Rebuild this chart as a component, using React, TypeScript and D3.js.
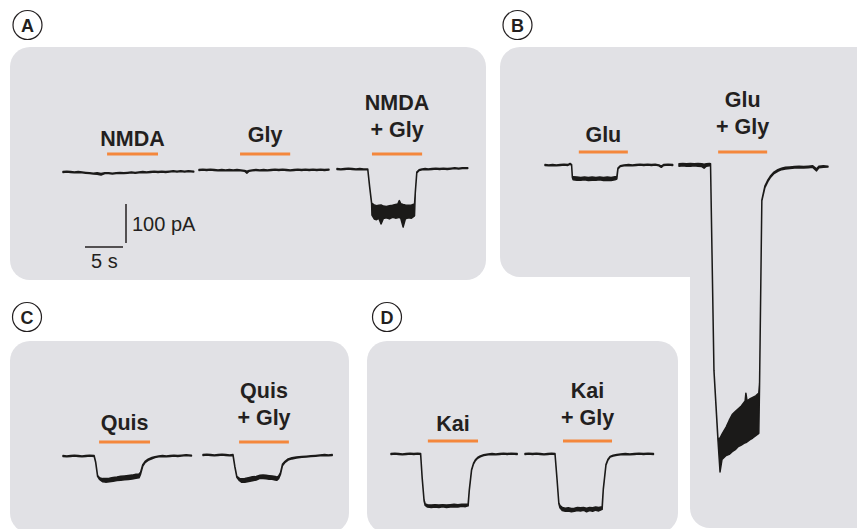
import React from 'react';
import * as d3 from 'd3';

/* ─── Recording scale ─── */
const PX_PER_S = 7.6;   // 5 s  = 38 px
const PX_PER_PA = 0.39; // 100 pA = 39 px

type Pt = [number, number, number]; // [time s, upper edge pA, lower edge pA]

/* ─── Current traces (pA vs s) ─── */
const nmdaTrace: Pt[] = [
  [0, 1, -1], [0.5, 2, 0], [1, 1, -1], [1.5, 0, -2], [2, 1, -1], [2.5, 0, -2], [3, -1, -3], [3.5, -2, -4],
  [4, -3, -5], [4.5, -2, -6], [5, -4, -8], [5.5, -2, -4], [6, -2, -4], [6.5, -3, -5], [7, -2, -4], [7.5, -1, -3],
  [8, -2, -4], [8.5, -1, -3], [9, 0, -2], [9.5, -1, -3], [10, 0, -2], [10.5, 1, -1], [11, 0, -2], [11.5, 1, -1],
  [12, 2, 0], [12.5, 1, -1], [13, 2, 0], [13.5, 1, -1], [14, 2, 0], [14.5, 3, 1], [15, 2, 0], [15.5, 3, 1],
  [16, 2, 0], [16.5, 3, 1], [17.2, 2, 0],
];
const glyTrace: Pt[] = [
  [0, 1, -1], [0.5, 2, 0], [1, 1, -1], [1.5, 2, 0], [2, 1, -1], [2.5, 0, -2], [3, 1, -1], [3.5, 0, -2],
  [4, 1, -1], [4.5, 0, -2], [5, 1, -1], [5.5, 0, -2], [6, -1, -3], [6.3, -3, -8], [6.6, -1, -3], [7, 0, -2],
  [7.5, 1, -1], [8, 0, -2], [8.5, 1, -1], [9, 0, -2], [9.5, 1, -1], [10, 2, 0], [10.5, 1, -1], [11, 2, 0],
  [11.5, 1, -1], [12, 0, -2], [12.5, 1, -1], [13, 2, 0], [13.5, 1, -1], [14, 2, 0], [14.5, 1, -1], [15, 2, 0],
  [15.5, 1, -1], [16, 2, 0], [16.5, 1, -1], [17.1, 2, 0],
];
const nmdaGlyTrace: Pt[] = [
  [0, 1, -1], [0.5, 0, -2], [1, 1, -1], [1.5, 2, 0], [2, 1, -1], [2.5, 0, -2], [3, 1, -1], [3.5, 0, -2],
  [4.05, 0, -2], [4.3, -45, -47], [4.55, -86, -88],
  [4.6, -88, -118], [4.9, -92, -128], [5.2, -94, -130], [5.5, -93, -126], [5.8, -92, -141], [6.1, -95, -127],
  [6.5, -96, -125], [6.9, -94, -128], [7.3, -93, -124], [7.7, -91, -126], [8.0, -90, -125], [8.2, -81, -124],
  [8.4, -89, -127], [8.7, -91, -149], [9.0, -92, -128], [9.4, -93, -125], [9.8, -92, -126], [10.2, -90, -120],
  [10.3, -60, -62], [10.5, -8, -10], [10.8, -2, -4], [11.2, 0, -2], [11.6, 1, -1], [12, 0, -2], [12.5, 1, -1],
  [13, 2, 0], [13.5, 1, -1], [14, 2, 0], [14.5, 1, -1], [15, 2, 0], [15.5, 3, 1], [16, 2, 0], [16.5, 3, 1],
  [17.2, 3, 1],
];
const gluTrace: Pt[] = [
  [0, 1, -1], [0.5, 0, -2], [1, 1, -1], [1.5, 0, -2], [2, 1, -1], [2.5, 2, 0], [3, 1, -1], [3.3, 4, 2],
  [3.5, 1, -1], [3.6, -30, -32], [3.7, -30, -38], [4.2, -31, -39], [4.7, -32, -39], [5.2, -31, -38],
  [5.7, -32, -40], [6.2, -31, -39], [6.7, -32, -39], [7.2, -31, -38], [7.7, -32, -40], [8.2, -31, -39],
  [8.7, -32, -40], [9.2, -30, -38], [9.45, -30, -36], [9.6, -8, -10], [9.9, -2, -4], [10.4, 0, -2],
  [11, 1, -1], [11.5, 0, -2], [12, 1, -1], [12.5, 2, 0], [13, 1, -1], [13.5, 2, 0], [14, 1, -1], [14.5, 2, 0],
  [15, 0, -2], [15.3, -3, -6], [15.6, 1, -1], [16.2, 2, 0], [16.8, 1, -1],
];
const gluGlyTrace: Pt[] = [
  [0, 3, -3], [0.5, 4, -2], [1, 3, -3], [1.5, 4, -3], [2, 3, -2], [2.5, 4, -3], [3, 3, -4], [3.3, 2, -8],
  [3.6, 3, -3], [4, 4, -2], [4.15, 3, -1],
  [4.6, -526, -528], [5.13, -703, -707],
  [5.4, -700, -787], [5.66, -690, -755], [6.2, -672, -745], [6.6, -655, -742], [7.0, -640, -735],
  [7.4, -632, -730], [7.8, -625, -722], [8.2, -618, -718], [8.7, -605, -712], [8.8, -585, -712],
  [8.95, -605, -710], [9.3, -600, -705], [9.7, -596, -700], [10.1, -592, -694], [10.5, -585, -688],
  [10.6, -560, -565], [10.9, -90, -92], [11.3, -54, -58], [11.7, -38, -42], [12.0, -29, -33], [12.5, -18, -22],
  [13, -12, -16], [13.5, -8, -12], [14, -6, -10], [14.6, -5, -9], [15.2, -4, -8], [15.8, -3, -7], [16.4, -4, -8],
  [17, -3, -7], [17.6, -2, -6], [18.1, -10, -15], [18.4, -3, -7], [19, -2, -6], [19.6, -3, -5],
];
const quisTrace: Pt[] = [
  [0, 1, -1], [0.5, 0, -2], [1, 1, -1], [1.5, 2, 0], [2, 1, -1], [2.5, 0, -2], [3, 1, -1], [3.5, 2, 0],
  [4.1, 1, -1], [4.3, -15, -17], [4.55, -50, -52], [4.8, -56, -60], [5.2, -58, -66], [5.6, -58, -67],
  [6.1, -57, -66], [6.6, -55, -65], [7.1, -54, -63], [7.6, -52, -62], [8.1, -51, -61], [8.6, -50, -60],
  [9.1, -49, -59], [9.6, -47, -57], [10.0, -46, -56], [10.2, -42, -47], [10.5, -22, -26], [10.8, -14, -17],
  [11.2, -8, -11], [11.7, -4, -7], [12.1, -2, -4], [12.6, 0, -2], [13.1, 1, -1], [13.6, 0, -2], [14.1, 1, -1],
  [14.6, 2, 0], [15.1, 1, -1], [15.6, 2, 0], [16.2, 3, 1], [16.9, 2, 0],
];
const quisGlyTrace: Pt[] = [
  [0, 1, -1], [0.5, 2, 0], [1, 1, -1], [1.5, 0, -2], [2, 1, -1], [2.5, 2, 0], [3, 1, -1], [3.5, 0, -2],
  [3.95, 1, -1], [4.2, -30, -32], [4.45, -55, -57], [4.8, -60, -66], [5.1, -61, -70], [5.5, -60, -70],
  [6, -58, -68], [6.5, -56, -66], [7, -55, -64], [7.5, -52, -60], [7.9, -51, -60], [8.3, -52, -61],
  [8.7, -53, -62], [9.1, -54, -62], [9.5, -55, -64], [9.7, -57, -65], [9.95, -54, -61], [10.2, -45, -49],
  [10.45, -24, -28], [10.8, -16, -19], [11.2, -10, -13], [11.7, -7, -10], [12.3, -5, -8], [13, -4, -6],
  [13.6, -3, -5], [14.2, -2, -4], [14.8, -1, -3], [15.4, 0, -2], [16, 1, -1], [16.5, 0, -2], [17, 1, -1],
];
const kaiTrace: Pt[] = [
  [0, 1, -1], [0.5, 2, 0], [1, 1, -1], [1.5, 0, -2], [2, 1, -1], [2.5, 2, 0], [3, 1, -1], [3.5, 2, 0],
  [3.9, 1, -1], [4.1, -60, -62], [4.35, -118, -120], [4.5, -128, -132], [4.8, -130, -136], [5.3, -131, -137],
  [5.8, -130, -136], [6.3, -131, -137], [6.8, -130, -135], [7.3, -131, -137], [7.8, -130, -136],
  [8.3, -129, -135], [8.8, -130, -136], [9.3, -129, -134], [9.8, -129, -135], [10.15, -128, -133],
  [10.3, -92, -94], [10.6, -40, -42], [10.85, -24, -26], [11.1, -15, -17], [11.4, -9, -11], [11.75, -5, -7],
  [12.2, -2, -4], [12.8, 0, -2], [13.3, 1, -1], [13.8, 0, -2], [14.3, 1, -1], [14.8, 2, 0], [15.3, 1, -1],
  [15.8, 2, 0], [16.6, 1, -1],
];
const kaiGlyTrace: Pt[] = [
  [0, 1, -1], [0.5, 2, 0], [1, 1, -1], [1.5, 2, 0], [2, 1, -1], [2.5, 0, -2], [3, 1, -1], [3.5, 2, 0],
  [3.95, 1, -1], [4.2, -60, -62], [4.45, -125, -127], [4.6, -132, -138], [4.9, -137, -145],
  [5.3, -139, -147], [5.7, -138, -146], [6.1, -140, -148], [6.5, -139, -147], [6.9, -137, -145],
  [7.3, -138, -146], [7.7, -137, -144], [8.1, -139, -148], [8.5, -137, -145], [8.9, -138, -147],
  [9.3, -136, -144], [9.7, -137, -146], [10.15, -135, -142], [10.3, -90, -92], [10.65, -27, -29],
  [10.9, -14, -16], [11.2, -6, -8], [11.6, -3, -5], [12.1, -1, -3], [12.6, 0, -2], [13.2, 1, -1],
  [13.8, 0, -2], [14.4, 1, -1], [15, 2, 0], [15.6, 1, -1], [16.2, 2, 0], [16.9, 1, -1],
];

/* ─── Drug application periods (s, relative to trace start) ─── */
const nmdaBar = [5.8, 12.5];
const glyBar = [5.4, 12.0];
const nmdaGlyBar = [4.6, 11.2];
const gluBar = [4.45, 10.9];
const gluGlyBar = [5.15, 11.6];
const quisBar = [4.75, 11.45];
const quisGlyBar = [4.75, 11.3];
const kaiBar = [4.85, 11.45];
const kaiGlyBar = [5.0, 11.45];

/* ─── Text ─── */
const drugLabels = {
  nmda: ['NMDA'], gly: ['Gly'], nmdaGly: ['NMDA', '+ Gly'],
  glu: ['Glu'], gluGly: ['Glu', '+ Gly'],
  quis: ['Quis'], quisGly: ['Quis', '+ Gly'],
  kai: ['Kai'], kaiGly: ['Kai', '+ Gly'],
};
const panelLetters = ['A', 'B', 'C', 'D'];
const scaleBarPA = 100;
const scaleBarS = 5;

/* ─── Layout ─── */
const FONT = "'Liberation Sans', Arial, Helvetica, sans-serif";
const INK = '#231f20';
const ORANGE = '#f4873c';
const PANEL_BG = '#e1e1e5';

const TRACES = [
  { data: nmdaTrace, bar: nmdaBar, label: drugLabels.nmda, x0: 63, y0: 172, barY: 154, labelY: 146 },
  { data: glyTrace, bar: glyBar, label: drugLabels.gly, x0: 199, y0: 170, barY: 154, labelY: 142 },
  { data: nmdaGlyTrace, bar: nmdaGlyBar, label: drugLabels.nmdaGly, x0: 337, y0: 169, barY: 154, labelY: 137 },
  { data: gluTrace, bar: gluBar, label: drugLabels.glu, x0: 545, y0: 165, barY: 152, labelY: 142 },
  { data: gluGlyTrace, bar: gluGlyBar, label: drugLabels.gluGly, x0: 679, y0: 165, barY: 152, labelY: 134 },
  { data: quisTrace, bar: quisBar, label: drugLabels.quis, x0: 63, y0: 456, barY: 442, labelY: 430 },
  { data: quisGlyTrace, bar: quisGlyBar, label: drugLabels.quisGly, x0: 203, y0: 455, barY: 442, labelY: 425 },
  { data: kaiTrace, bar: kaiBar, label: drugLabels.kai, x0: 391, y0: 454, barY: 441, labelY: 431 },
  { data: kaiGlyTrace, bar: kaiGlyBar, label: drugLabels.kaiGly, x0: 525, y0: 454, barY: 441, labelY: 425 },
];

const LETTER_POS = [[27.5, 25], [517.5, 25], [27, 317], [387, 317]];

function Trace({ t }: { t: typeof TRACES[number] }) {
  const x = d3.scaleLinear().domain([0, 10]).range([t.x0, t.x0 + 10 * PX_PER_S]);
  const y = d3.scaleLinear().domain([0, -100]).range([t.y0, t.y0 + 100 * PX_PER_PA]);
  const area = d3.area<Pt>().x(d => x(d[0])).y0(d => y(d[2])).y1(d => y(d[1]));
  const cx = (x(t.bar[0]) + x(t.bar[1])) / 2;
  const n = t.label.length;
  return (
    <g>
      <path d={area(t.data) || ''} fill="#1b1a19" stroke="#1b1a19" strokeWidth={1.5} strokeLinejoin="round" />
      <line x1={x(t.bar[0])} x2={x(t.bar[1])} y1={t.barY} y2={t.barY} stroke={ORANGE} strokeWidth={3.2} />
      {t.label.map((s, i) => (
        <text key={i} x={cx} y={t.labelY - (n - 1 - i) * 27} textAnchor="middle"
          fontFamily={FONT} fontWeight={700} fontSize={21.5} fill={INK}>{s}</text>
      ))}
    </g>
  );
}

export default function App() {
  // scale bar for panel A
  const sbY = d3.scaleLinear().domain([0, scaleBarPA]).range([0, scaleBarPA * PX_PER_PA]);
  const sbX = d3.scaleLinear().domain([0, scaleBarS]).range([0, scaleBarS * PX_PER_S]);
  const sbx = 126, sby = 243;

  return (
    <svg width={857} height={529} style={{ position: 'fixed', left: 0, top: 0, background: '#fff' }}>
      {/* panel backgrounds */}
      <rect x={10} y={47} width={476} height={233} rx={20} fill={PANEL_BG} />
      <path d="M520,47 H880 V528 H710 A20,20 0 0 1 690,508 V277 H520 A20,20 0 0 1 500,257 V67 A20,20 0 0 1 520,47 Z"
        fill={PANEL_BG} />
      <rect x={10} y={341} width={339} height={192} rx={20} fill={PANEL_BG} />
      <rect x={367} y={341} width={311} height={192} rx={20} fill={PANEL_BG} />

      {/* panel letters */}
      {panelLetters.map((l, i) => (
        <g key={l}>
          <circle cx={LETTER_POS[i][0]} cy={LETTER_POS[i][1]} r={14.5} fill="#fff" stroke={INK} strokeWidth={1.2} />
          <text x={LETTER_POS[i][0]} y={LETTER_POS[i][1] + 6.5} textAnchor="middle" fontFamily={FONT}
            fontWeight={700} fontSize={18} fill={INK}>{l}</text>
        </g>
      ))}

      {TRACES.map((t, i) => <Trace key={i} t={t} />)}

      {/* scale bars */}
      <line x1={sbx} x2={sbx} y1={sby} y2={sby - sbY(scaleBarPA)} stroke={INK} strokeWidth={1.5} />
      <line x1={sbx - 3 - sbX(scaleBarS)} x2={sbx - 3} y1={sby + 4} y2={sby + 4} stroke={INK} strokeWidth={1.5} />
      <text x={132} y={231} fontFamily={FONT} fontSize={20} fill={INK}>{`${scaleBarPA} pA`}</text>
      <text x={91} y={268} fontFamily={FONT} fontSize={20} fill={INK}>{`${scaleBarS} s`}</text>
    </svg>
  );
}
